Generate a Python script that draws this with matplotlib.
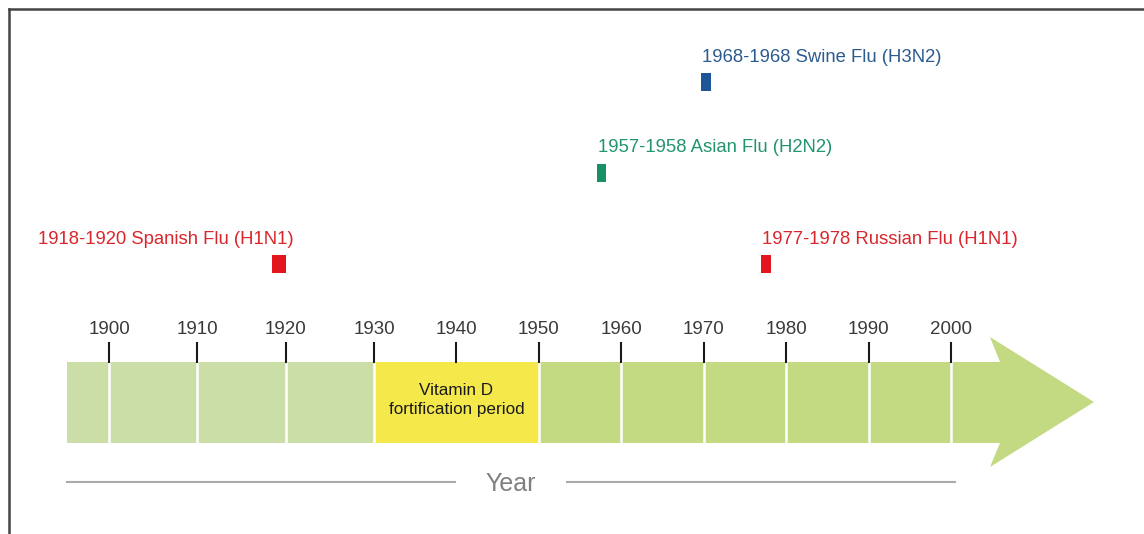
import numpy as np
import matplotlib.pyplot as plt
from matplotlib.patches import Polygon
from matplotlib.lines import Line2D

plt.rcParams['font.family'] = ['Liberation Sans', 'DejaVu Sans']

# timeline data
years = [1900, 1910, 1920, 1930, 1940, 1950, 1960, 1970, 1980, 1990, 2000]
vitd_start = 1930
vitd_end = 1950
vitd_label = 'Vitamin D\nfortification period'

event_labels = ['1918-1920 Spanish Flu (H1N1)', '1957-1958 Asian Flu (H2N2)',
                '1968-1968 Swine Flu (H3N2)', '1977-1978 Russian Flu (H1N1)']
event_start = [1918.4, 1957.0, 1969.7, 1977.0]
event_end = [1920.0, 1958.1, 1970.9, 1978.2]
event_colors = ['#e3161e', '#179163', '#1e5597', '#e3161e']
event_text_colors = ['#d9262c', '#23946b', '#2b5b8f', '#d9262c']

# layout (pixel rows, y axis runs downward)
event_rows = [264, 173, 82, 264]
label_rows = [240, 147, 57, 240]
label_ha = ['right', 'left', 'left', 'left']

W, H = 1144, 534
PX = 8.243          # pixels per year after 1930
K = 1.0713          # early decades are drawn a bit wider


def fwd(x):
    x = np.asarray(x, dtype=float)
    return np.where(x < 1930, 1930 + (x - 1930) * K, x)


def inv(x):
    x = np.asarray(x, dtype=float)
    return np.where(x < 1930, 1930 + (x - 1930) / K, x)


def px2yr(p):
    return float(inv(1930 + (p - 374) / PX))


fig = plt.figure(figsize=(W / 100, H / 100), dpi=100)
ax = fig.add_axes([0, 0, 1, 1])
ax.set_xscale('function', functions=(fwd, inv))
ax.set_xlim(px2yr(0), px2yr(W))
ax.set_ylim(H, 0)
ax.axis('off')

light = '#cbdea8'
green = '#c3d982'
yellow = '#f5e84b'
top, bot = 362, 443

x0 = px2yr(67)
ax.fill_between([x0, vitd_start], top, bot, color=light, lw=0)
ax.fill_between([vitd_start, vitd_end], top, bot, color=yellow, lw=0)
ax.fill_between([vitd_end, px2yr(1001)], top, bot, color=green, lw=0)
head = Polygon([(px2yr(990), 337), (px2yr(1000), top), (px2yr(1000), bot),
                (px2yr(990), 467), (px2yr(1094), 402)],
               closed=True, color=green, lw=0)
ax.add_patch(head)

for y in years:
    if not (vitd_start < y < vitd_end):
        ax.plot([y, y], [top, bot], color='white', lw=1.8)
    ax.plot([y, y], [343, top], color='#1a1a1a', lw=1.5)
    ax.text(y, 329, str(y), ha='center', va='center', fontsize=13.5, color='#3a3a3a')

ax.text((vitd_start + vitd_end) / 2, 400, vitd_label, ha='center', va='center',
        fontsize=12.3, color='#1a1a1a', linespacing=1.3)

for lab, s, e, c, tc, r, lr, ha in zip(event_labels, event_start, event_end, event_colors,
                                       event_text_colors, event_rows, label_rows, label_ha):
    ax.fill_between([s, e], r - 9, r + 9, color=c, lw=0)
    if ha == 'right':
        ax.annotate(lab, (e, lr), xytext=(8, 0), textcoords='offset pixels',
                    ha='right', va='center', fontsize=13.3, color=tc)
    else:
        ax.annotate(lab, (s, lr), xytext=(1, 0), textcoords='offset pixels',
                    ha='left', va='center', fontsize=13.3, color=tc)

# Year axis caption
ax.plot([67 / W, 455 / W], [1 - 482 / H] * 2, transform=ax.transAxes, color='#aaaaaa', lw=1.5)
ax.plot([567 / W, 955 / W], [1 - 482 / H] * 2, transform=ax.transAxes, color='#aaaaaa', lw=1.5)
ax.text(511 / W, 1 - 484 / H, 'Year', transform=ax.transAxes, ha='center', va='center',
        fontsize=18, color='#808080')

# frame on top and left
fig.add_artist(Line2D([8.5 / W, 1], [1 - 8.5 / H] * 2, transform=fig.transFigure, color='#444444', lw=1.8))
fig.add_artist(Line2D([8.5 / W] * 2, [0, 1 - 8.5 / H], transform=fig.transFigure, color='#444444', lw=1.8))

fig.savefig('out.png', dpi=100)
